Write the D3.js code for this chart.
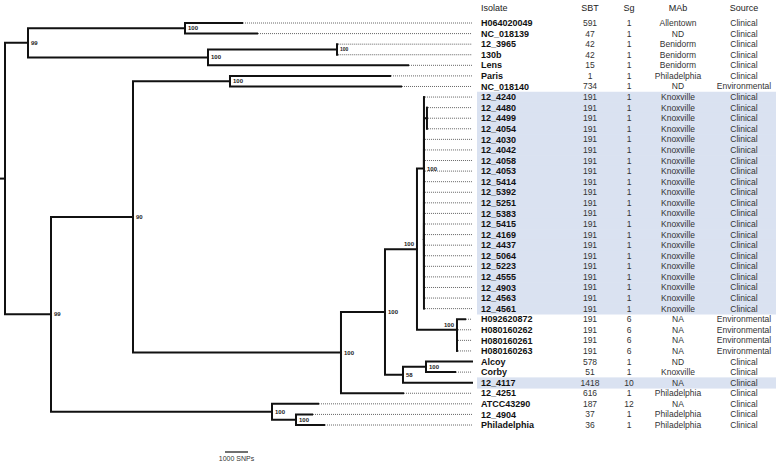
<!DOCTYPE html>
<html>
<head>
<meta charset="utf-8">
<script src="https://cdn.jsdelivr.net/npm/d3@7"></script>
<style>
  html, body { margin: 0; padding: 0; background: #fff; }
  svg { display: block; }
  text { font-family: "Liberation Sans", Arial, Helvetica, sans-serif; }
</style>
</head>
<body>
<svg id="chart" width="778" height="462"></svg>
<script>
// ---------------- DATA ----------------
// Tree edges: [node, parent, branch length (SNPs), bootstrap support]
const treeEdges = [
  ["root", "", 0, null],
  ["nA", "root", 1000, 99],
  ["nA1", "nA", 6826, 100],
  ["H064020049", "nA1", 2478, null],
  ["NC_018139", "nA1", 3130, null],
  ["nA2", "nA", 7826, 100],
  ["nC1", "nA2", 5609, 100],
  ["12_3965", "nC1", 10, null],
  ["130b", "nC1", 10, null],
  ["Lens", "nA2", 8696, null],
  ["nB", "root", 2000, 99],
  ["nB1", "nB", 3565, 90],
  ["nB1a", "nB1", 4217, 100],
  ["Paris", "nB1a", 6957, null],
  ["NC_018140", "nB1a", 7435, null],
  ["nB1b", "nB1", 9043, 100],
  ["n385", "nB1b", 1913, 100],
  ["n417", "n385", 1391, 100],
  ["nK", "n417", 304, 100],
  ["12_4240", "nK", 0, null],
  ["nKc", "nK", 130, null],
  ["12_4480", "nKc", 0, null],
  ["12_4499", "nKc", 0, null],
  ["12_4054", "nKc", 0, null],
  ["12_4030", "nK", 0, null],
  ["12_4042", "nK", 0, null],
  ["12_4058", "nK", 0, null],
  ["nKx", "nK", 0, null],
  ["12_4053", "nKx", 0, null],
  ["12_5414", "nKx", 0, null],
  ["12_5392", "nKx", 0, null],
  ["12_5251", "nKx", 0, null],
  ["12_5383", "nKx", 0, null],
  ["12_5415", "nKx", 0, null],
  ["12_4169", "nKx", 0, null],
  ["12_4437", "nKx", 0, null],
  ["12_5064", "nKx", 0, null],
  ["12_5223", "nKx", 0, null],
  ["12_4555", "nKx", 0, null],
  ["12_4903", "nKx", 0, null],
  ["12_4563", "nKx", 0, null],
  ["12_4561", "nKx", 0, null],
  ["nH", "n417", 1739, 100],
  ["H092620872", "nH", 350, null],
  ["nH2", "nH", 0, null],
  ["H080160262", "nH2", 0, null],
  ["H080160261", "nH2", 0, null],
  ["H080160263", "nH2", 0, null],
  ["n58", "n385", 783, 58],
  ["nAC", "n58", 1000, 100],
  ["Alcoy", "nAC", 2000, null],
  ["Corby", "nAC", 1261, null],
  ["12_4117", "n58", 3000, null],
  ["12_4251", "nB1b", 2696, null],
  ["nB2", "nB", 9609, 100],
  ["ATCC43290", "nB2", 2000, null],
  ["nP", "nB2", 1043, 100],
  ["12_4904", "nP", 696, null],
  ["Philadelphia", "nP", 1217, null]
];

// Table columns
const columnHeaders = ["Isolate", "SBT", "Sg", "MAb", "Source"];
const isolates = ["H064020049","NC_018139","12_3965","130b","Lens","Paris","NC_018140",
  "12_4240","12_4480","12_4499","12_4054","12_4030","12_4042","12_4058","12_4053","12_5414",
  "12_5392","12_5251","12_5383","12_5415","12_4169","12_4437","12_5064","12_5223","12_4555",
  "12_4903","12_4563","12_4561","H092620872","H080160262","H080160261","H080160263","Alcoy",
  "Corby","12_4117","12_4251","ATCC43290","12_4904","Philadelphia"];
const sbt = ["591","47","42","42","15","1","734",
  "191","191","191","191","191","191","191","191","191","191","191","191","191","191","191",
  "191","191","191","191","191","191","191","191","191","191","578","51","1418","616","187","37","36"];
const sg = ["1","1","1","1","1","1","1",
  "1","1","1","1","1","1","1","1","1","1","1","1","1","1","1","1","1","1","1","1","1",
  "6","6","6","6","1","1","10","1","12","1","1"];
const mab = ["Allentown","ND","Benidorm","Benidorm","Benidorm","Philadelphia","ND",
  "Knoxville","Knoxville","Knoxville","Knoxville","Knoxville","Knoxville","Knoxville","Knoxville",
  "Knoxville","Knoxville","Knoxville","Knoxville","Knoxville","Knoxville","Knoxville","Knoxville",
  "Knoxville","Knoxville","Knoxville","Knoxville","Knoxville",
  "NA","NA","NA","NA","ND","Knoxville","NA","Philadelphia","NA","Philadelphia","Philadelphia"];
const source = ["Clinical","Clinical","Clinical","Clinical","Clinical","Clinical","Environmental",
  "Clinical","Clinical","Clinical","Clinical","Clinical","Clinical","Clinical","Clinical","Clinical",
  "Clinical","Clinical","Clinical","Clinical","Clinical","Clinical","Clinical","Clinical","Clinical",
  "Clinical","Clinical","Clinical",
  "Environmental","Environmental","Environmental","Environmental","Clinical","Clinical","Clinical",
  "Clinical","Clinical","Clinical","Clinical"];
const highlighted = ["12_4240","12_4480","12_4499","12_4054","12_4030","12_4042","12_4058","12_4053",
  "12_5414","12_5392","12_5251","12_5383","12_5415","12_4169","12_4437","12_5064","12_5223",
  "12_4555","12_4903","12_4563","12_4561","12_4117"];
const scaleBarSNPs = 1000;
const scaleBarLabel = "1000 SNPs";

// ---------------- LAYOUT ----------------
const svg = d3.select("#chart");
const W = 778, H = 462;

const x = d3.scaleLinear().domain([0, 1000]).range([5, 28]);
const y = d3.scaleLinear().domain([0, isolates.length - 1]).range([23, 425]);
const rowStep = y(1) - y(0);
const leaderEnd = 472;
const colX = { Isolate: 481, SBT: 590, Sg: 629, MAb: 678, Source: 744 };
const labelAboveLeft = new Set(["n417", "nH"]);

const root = d3.stratify()
  .id(d => d[0])
  .parentId(d => d[1] === "" ? null : d[1])(treeEdges);

// depth in SNPs
root.eachBefore(n => {
  n.dist = n.parent ? n.parent.dist + n.data[2] : 0;
  n.px = x(n.dist);
});
// y: leaves by table row; internal = midpoint of first and last child
root.eachAfter(n => {
  if (!n.children) {
    n.py = y(isolates.indexOf(n.id));
  } else {
    n.py = (n.children[0].py + n.children[n.children.length - 1].py) / 2;
  }
});

// highlight bands
const gHi = svg.append("g");
isolates.forEach((name, i) => {
  if (highlighted.includes(name)) {
    gHi.append("rect")
      .attr("x", 477).attr("y", y(i) - rowStep / 2)
      .attr("width", W - 477 - 2).attr("height", rowStep + 0.6)
      .attr("fill", "#dae2f1");
  }
});

// dotted leaders
const gLead = svg.append("g");
root.leaves().forEach(l => {
  gLead.append("line")
    .attr("x1", l.px + 1).attr("x2", leaderEnd)
    .attr("y1", l.py).attr("y2", l.py)
    .attr("stroke", "#555").attr("stroke-width", 0.9)
    .attr("stroke-dasharray", "1,1");
});

// branches
const gTree = svg.append("g");
root.links().forEach(lk => {
  gTree.append("path")
    .attr("d", `M${lk.source.px},${lk.source.py}V${lk.target.py}H${lk.target.px}`)
    .attr("fill", "none").attr("stroke", "#111")
    .attr("stroke-width", 2).attr("stroke-linecap", "square");
});
// root stub
gTree.append("line")
  .attr("x1", 0).attr("x2", root.px)
  .attr("y1", root.py).attr("y2", root.py)
  .attr("stroke", "#111").attr("stroke-width", 2);

// bootstrap labels
const gBoot = svg.append("g");
root.descendants().forEach(n => {
  const s = n.data[3];
  if (s === null || s === undefined) return;
  const t = gBoot.append("text")
    .text(s)
    .attr("font-size", n.id === "nC1" ? 5 : 6)
    .attr("font-weight", "bold")
    .attr("fill", "#222");
  if (labelAboveLeft.has(n.id)) {
    t.attr("x", n.px - 3).attr("y", n.py - 3).attr("text-anchor", "end");
  } else {
    t.attr("x", n.px + 3).attr("y", n.py).attr("dy", "0.35em");
  }
});

// table headers
const gTab = svg.append("g");
columnHeaders.forEach(h => {
  gTab.append("text")
    .text(h)
    .attr("x", colX[h]).attr("y", 8).attr("dy", "0.35em")
    .attr("text-anchor", h === "Isolate" ? "start" : "middle")
    .attr("font-size", 9).attr("fill", "#222");
});

// table rows
isolates.forEach((name, i) => {
  const yy = y(i);
  gTab.append("text").text(name)
    .attr("x", colX.Isolate).attr("y", yy).attr("dy", "0.35em")
    .attr("font-size", 9).attr("font-weight", "bold").attr("fill", "#111");
  [["SBT", sbt], ["Sg", sg], ["MAb", mab], ["Source", source]].forEach(([k, arr]) => {
    gTab.append("text").text(arr[i])
      .attr("x", colX[k]).attr("y", yy).attr("dy", "0.35em")
      .attr("text-anchor", "middle")
      .attr("font-size", 8.5).attr("fill", "#333");
  });
});

// scale bar
const sbX0 = 225;
const sbLen = x(scaleBarSNPs) - x(0);
svg.append("line")
  .attr("x1", sbX0).attr("x2", sbX0 + sbLen)
  .attr("y1", 452).attr("y2", 452)
  .attr("stroke", "#111").attr("stroke-width", 1.2);
svg.append("text").text(scaleBarLabel)
  .attr("x", sbX0 + sbLen / 2).attr("y", 459).attr("dy", "0.35em")
  .attr("text-anchor", "middle").attr("font-size", 7).attr("fill", "#333");
</script>
</body>
</html>
